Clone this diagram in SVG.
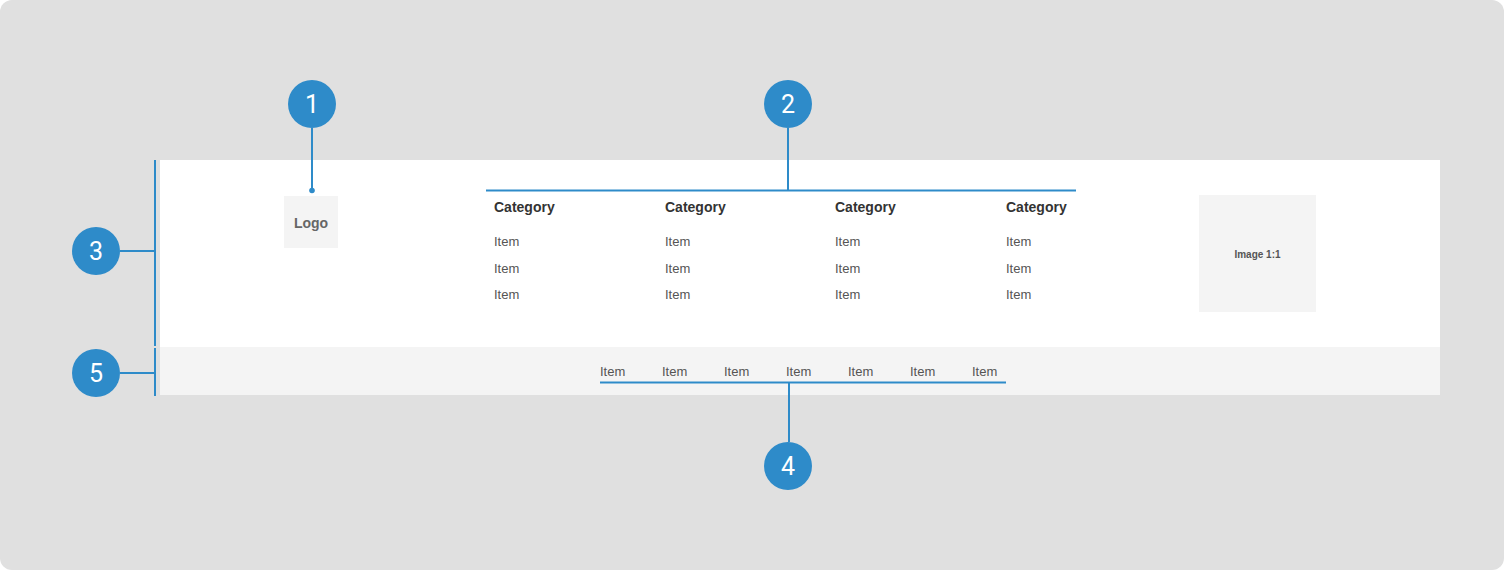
<svg xmlns="http://www.w3.org/2000/svg" width="1504" height="570" viewBox="0 0 1504 570">
<style>
.badge{fill:#2e8bc9}
.num{fill:#fff;font-family:Roboto,"Liberation Sans",sans-serif;font-size:25px;font-weight:400;text-anchor:middle}
.cat{fill:#333;font-family:"Liberation Sans",Arial,sans-serif;font-size:14px;font-weight:bold}
.item{fill:#555;font-family:"Liberation Sans",Arial,sans-serif;font-size:13px}
.conn{stroke:#2e8bc9;stroke-width:2;fill:none}
</style>
<rect x="0" y="0" width="1504" height="570" rx="12" fill="#e0e0e0"/>
<g id="header">
<rect x="160" y="160" width="1280" height="187" fill="#ffffff"/>
</g>
<g id="footer">
<rect x="160" y="347" width="1280" height="48" fill="#f4f4f4"/>
<text class="item" x="600" y="376">Item</text>
<text class="item" x="662" y="376">Item</text>
<text class="item" x="724" y="376">Item</text>
<text class="item" x="786" y="376">Item</text>
<text class="item" x="848" y="376">Item</text>
<text class="item" x="910" y="376">Item</text>
<text class="item" x="972" y="376">Item</text>
</g>
<g id="logo">
<rect x="284" y="196" width="54" height="52" fill="#f4f4f4"/>
<text x="311" y="228" text-anchor="middle" font-family="'Liberation Sans',Arial,sans-serif" font-size="14" font-weight="bold" fill="#666">Logo</text>
</g>
<g id="image">
<rect x="1199" y="195" width="117" height="117" fill="#f4f4f4"/>
<text x="1257.5" y="257.5" text-anchor="middle" font-family="'Liberation Sans',Arial,sans-serif" font-size="10" font-weight="bold" fill="#555">Image 1:1</text>
</g>
<g id="menu">
<text class="cat" x="494" y="212">Category</text>
<text class="cat" x="665" y="212">Category</text>
<text class="cat" x="835" y="212">Category</text>
<text class="cat" x="1006" y="212">Category</text>
<text class="item" x="494" y="245.5">Item</text>
<text class="item" x="665" y="245.5">Item</text>
<text class="item" x="835" y="245.5">Item</text>
<text class="item" x="1006" y="245.5">Item</text>
<text class="item" x="494" y="272.5">Item</text>
<text class="item" x="665" y="272.5">Item</text>
<text class="item" x="835" y="272.5">Item</text>
<text class="item" x="1006" y="272.5">Item</text>
<text class="item" x="494" y="298.5">Item</text>
<text class="item" x="665" y="298.5">Item</text>
<text class="item" x="835" y="298.5">Item</text>
<text class="item" x="1006" y="298.5">Item</text>
</g>
<g id="connectors">
<line class="conn" x1="312" y1="128" x2="312" y2="190"/>
<circle cx="312" cy="190.5" r="2.8" fill="#2e8bc9"/>
<line class="conn" x1="788" y1="128" x2="788" y2="190"/>
<line class="conn" x1="486" y1="190.5" x2="1076" y2="190.5"/>
<line class="conn" x1="155" y1="160" x2="155" y2="346"/>
<line class="conn" x1="120" y1="251" x2="155" y2="251"/>
<line class="conn" x1="155" y1="348" x2="155" y2="396"/>
<line class="conn" x1="120" y1="373" x2="155" y2="373"/>
<line class="conn" x1="600" y1="382.5" x2="1006" y2="382.5"/>
<line class="conn" x1="789" y1="382" x2="789" y2="442"/>
</g>
<g id="badge1"><circle class="badge" cx="312" cy="104" r="24"/><text class="num" x="312" y="113">1</text></g>
<g id="badge2"><circle class="badge" cx="788" cy="104" r="24"/><text class="num" x="788" y="113">2</text></g>
<g id="badge3"><circle class="badge" cx="96" cy="251" r="24"/><text class="num" x="96" y="260">3</text></g>
<g id="badge4"><circle class="badge" cx="788" cy="466" r="24"/><text class="num" x="788" y="475">4</text></g>
<g id="badge5"><circle class="badge" cx="96" cy="373" r="24"/><text class="num" x="96" y="382">5</text></g>
</svg>
